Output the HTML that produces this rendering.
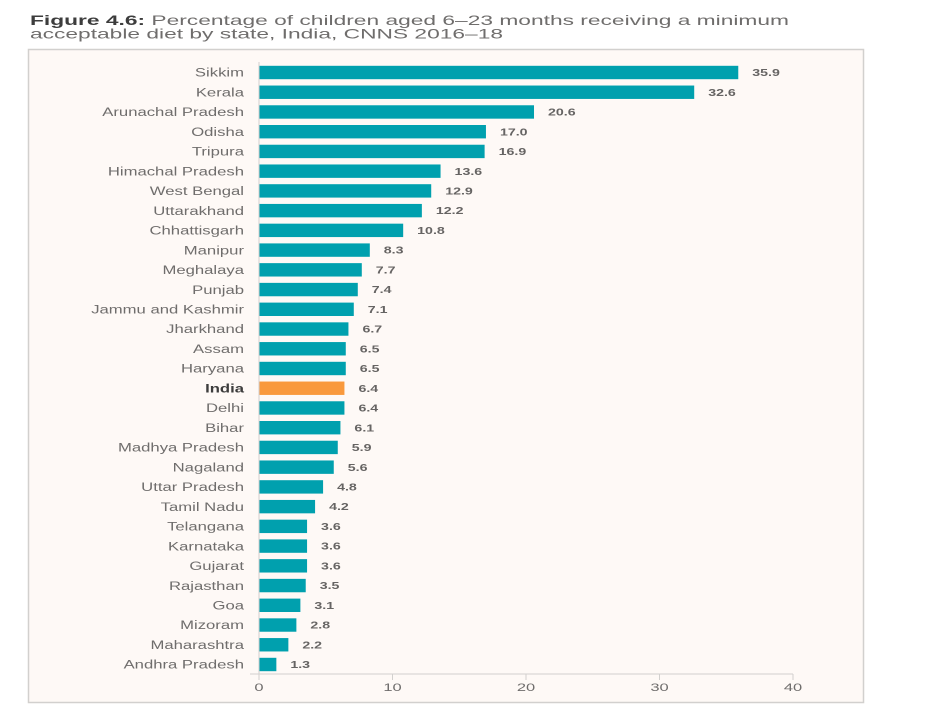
<!DOCTYPE html>
<html>
<head>
<meta charset="utf-8">
<style>
html,body{margin:0;padding:0;background:#fff;width:943px;height:720px;overflow:hidden}
svg{display:block;font-family:"Liberation Sans",sans-serif}
</style>
</head>
<body>
<svg id="chart" width="943" height="720" viewBox="0 0 943 720" xmlns="http://www.w3.org/2000/svg">
  <g font-size="14" fill="#6f6d6c">
    <text x="30" y="25" textLength="759" lengthAdjust="spacingAndGlyphs"><tspan font-weight="bold" fill="#3d3d3d">Figure 4.6:</tspan> Percentage of children aged 6–23 months receiving a minimum</text>
    <text x="30" y="38.5" textLength="473" lengthAdjust="spacingAndGlyphs">acceptable diet by state, India, CNNS 2016–18</text>
  </g>
  <rect x="28.5" y="49.5" width="835" height="653" fill="#fef9f6" stroke="#d2d0ce" stroke-width="1.5"/>
  <g id="plot"></g>
</svg>
<script>
const categories = ["Sikkim","Kerala","Arunachal Pradesh","Odisha","Tripura","Himachal Pradesh","West Bengal","Uttarakhand","Chhattisgarh","Manipur","Meghalaya","Punjab","Jammu and Kashmir","Jharkhand","Assam","Haryana","India","Delhi","Bihar","Madhya Pradesh","Nagaland","Uttar Pradesh","Tamil Nadu","Telangana","Karnataka","Gujarat","Rajasthan","Goa","Mizoram","Maharashtra","Andhra Pradesh"];
const values = [35.9,32.6,20.6,17.0,16.9,13.6,12.9,12.2,10.8,8.3,7.7,7.4,7.1,6.7,6.5,6.5,6.4,6.4,6.1,5.9,5.6,4.8,4.2,3.6,3.6,3.6,3.5,3.1,2.8,2.2,1.3];
const highlightCategory = "India";
const xTicks = [0,10,20,30,40];

const NS = "http://www.w3.org/2000/svg";
const plot = document.getElementById("plot");
const X0 = 259, X1 = 793, XMAX = 40;
const TOP = 72.5, STEP = 592 / 30, BAR_H = 13.4, AXIS_Y = 674;
const xScale = v => X0 + (v / XMAX) * (X1 - X0);
const yScale = i => TOP + i * STEP;

function make(tag, attrs, parent) {
  const el = document.createElementNS(NS, tag);
  for (const k in attrs) el.setAttribute(k, attrs[k]);
  parent.appendChild(el);
  return el;
}
function stretched(str, x, y, anchor, sx, size, fill, weight, parent) {
  const t = make("text", {
    transform: "translate(" + x + "," + y + ") scale(" + sx + ",1)",
    "text-anchor": anchor, "font-size": size, fill: fill, "font-weight": weight
  }, parent);
  t.textContent = str;
  return t;
}

categories.forEach((name, i) => {
  const isHi = name === highlightCategory;
  const y = yScale(i);
  const label = stretched(name, 244, y + 4.2, "end", 1.39, 12, isHi ? "#3d3d3d" : "#6f6d6c", isHi ? "bold" : "normal", plot);
  
  

  const bar = make("rect", {
    x: X0, y: y - BAR_H / 2,
    width: xScale(values[i]) - X0, height: BAR_H,
    fill: isHi ? "#f9993d" : "#00a0ae"
  }, plot);
  
  

  const val = stretched(values[i].toFixed(1), xScale(values[i]) + 14, y + 3.6, "start", 1.35, 10.5, "#666463", "bold", plot);
  
  
});

const yAxis = make("line", {x1: X0, x2: X0, y1: 62, y2: 680, stroke: "#d2d0ce", "stroke-width": 1}, plot);



const xAxis = make("line", {x1: 250, x2: X1, y1: AXIS_Y, y2: AXIS_Y, stroke: "#d2d0ce", "stroke-width": 1}, plot);



xTicks.forEach(v => {
  const x = xScale(v);
  const tick = make("line", {x1: x, x2: x, y1: AXIS_Y, y2: AXIS_Y + 6, stroke: "#d2d0ce", "stroke-width": 1}, plot);
  
  
  const lab = stretched(String(v), x, 691, "middle", 1.5, 11, "#6f6d6c", "normal", plot);
  
  
});
</script>
</body>
</html>
